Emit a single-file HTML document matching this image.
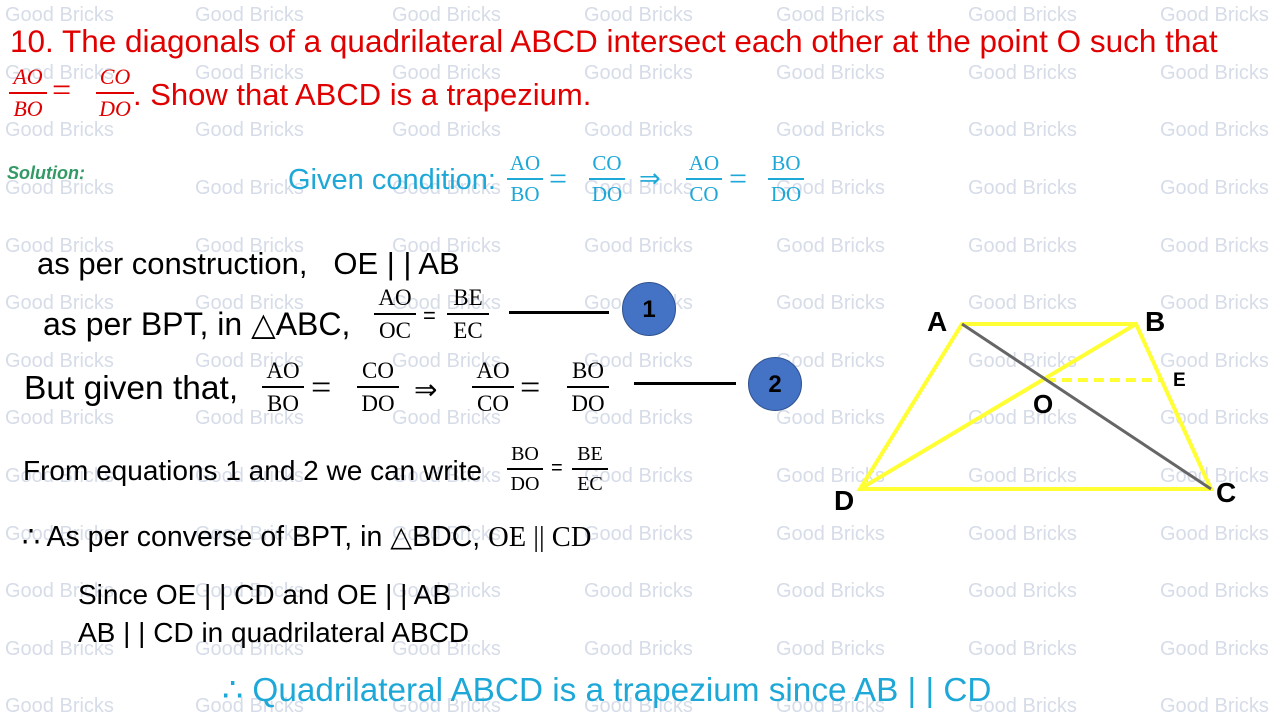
<!DOCTYPE html>
<html><head><meta charset="utf-8"><style>
body{margin:0;width:1280px;height:720px;position:relative;background:#fff;overflow:hidden;font-family:"Liberation Sans",sans-serif}
.w{position:absolute;color:#d6dce8;font-size:20px;white-space:nowrap}
.t{position:absolute;white-space:nowrap}
.f{position:absolute;font-family:"Liberation Serif",serif;text-align:center}
.f span{display:block;line-height:1}
.f i{display:block;border-top:2px solid currentColor;margin:4px 0}
.c{position:absolute;width:54px;height:54px;border-radius:50%;background:#4472c4;border:1.5px solid #2f528f;color:#000;font-weight:bold;font-size:24px;text-align:center;line-height:54px;box-sizing:border-box}
.h{position:absolute;height:2.5px;background:#000}
</style></head><body>
<div id="wm"></div>
<script>
var xs=[5,195,392,584,776,968,1160],ys=[4,62,119,177,235,292,350,407,465,523,580,638,695],h='';
ys.forEach(function(y){xs.forEach(function(x){h+='<div class="w" style="left:'+x+'px;top:'+y+'px">Good Bricks</div>'})});
document.getElementById('wm').innerHTML=h;
</script>
<div class="t" style="left:10px;top:23px;font-size:31.5px;color:#e00000">10. The diagonals of a quadrilateral ABCD intersect each other at the point O such that</div>
<div class="f" style="left:9px;top:66px;color:#e00000;font-size:22px;font-style:italic;width:38px"><span>AO</span><i></i><span>BO</span></div>
<div class="t" style="left:52px;top:72px;font-size:34px;color:#e00000;font-family:'Liberation Serif',serif">=</div>
<div class="f" style="left:96px;top:66px;color:#e00000;font-size:22px;font-style:italic;width:38px"><span>CO</span><i></i><span>DO</span></div>
<div class="t" style="left:133px;top:77px;font-size:31px;color:#e00000">. Show that ABCD is a trapezium.</div>
<div class="t" style="left:7px;top:163px;font-size:18px;color:#339966;font-weight:bold;font-style:italic">Solution:</div>
<div class="t" style="left:288px;top:164px;font-size:29px;color:#1ea8d8">Given condition:</div>
<div class="f" style="left:507px;top:153px;color:#1ea8d8;font-size:21px;width:36px"><span>AO</span><i></i><span>BO</span></div>
<div class="t" style="left:549px;top:160px;font-size:32px;color:#1ea8d8;font-family:'Liberation Serif',serif">=</div>
<div class="f" style="left:589px;top:153px;color:#1ea8d8;font-size:21px;width:36px"><span>CO</span><i></i><span>DO</span></div>
<div class="t" style="left:639px;top:163px;font-size:26px;color:#1ea8d8">⇒</div>
<div class="f" style="left:686px;top:153px;color:#1ea8d8;font-size:21px;width:36px"><span>AO</span><i></i><span>CO</span></div>
<div class="t" style="left:729px;top:160px;font-size:32px;color:#1ea8d8;font-family:'Liberation Serif',serif">=</div>
<div class="f" style="left:768px;top:153px;color:#1ea8d8;font-size:21px;width:36px"><span>BO</span><i></i><span>DO</span></div>
<div class="t" style="left:37px;top:246px;font-size:31px">as per construction,&nbsp;&nbsp; OE | | AB</div>
<div class="t" style="left:43px;top:305px;font-size:32px">as per BPT, in △ABC,</div>
<div class="f" style="left:374px;top:286px;font-size:23px;width:42px"><span>AO</span><i></i><span>OC</span></div>
<div class="t" style="left:423px;top:303px;font-size:22px">=</div>
<div class="f" style="left:447px;top:286px;font-size:23px;width:42px"><span>BE</span><i></i><span>EC</span></div>
<div class="h" style="left:509px;top:311px;width:100px"></div>
<div class="c" style="left:622px;top:282px">1</div>
<div class="t" style="left:24px;top:370px;font-size:33.5px">But given that,</div>
<div class="f" style="left:262px;top:359px;font-size:23px;width:42px"><span>AO</span><i></i><span>BO</span></div>
<div class="t" style="left:311px;top:366px;font-size:36px;font-family:'Liberation Serif',serif">=</div>
<div class="f" style="left:357px;top:359px;font-size:23px;width:42px"><span>CO</span><i></i><span>DO</span></div>
<div class="t" style="left:414px;top:373px;font-size:28px">⇒</div>
<div class="f" style="left:472px;top:359px;font-size:23px;width:42px"><span>AO</span><i></i><span>CO</span></div>
<div class="t" style="left:520px;top:366px;font-size:36px;font-family:'Liberation Serif',serif">=</div>
<div class="f" style="left:567px;top:359px;font-size:23px;width:42px"><span>BO</span><i></i><span>DO</span></div>
<div class="h" style="left:634px;top:382px;width:102px"></div>
<div class="c" style="left:748px;top:357px">2</div>
<div class="t" style="left:23px;top:455px;font-size:28px">From equations 1 and 2 we can write</div>
<div class="f" style="left:507px;top:444px;font-size:20px;width:36px"><span>BO</span><i></i><span>DO</span></div>
<div class="t" style="left:551px;top:457px;font-size:20px">=</div>
<div class="f" style="left:572px;top:444px;font-size:20px;width:36px"><span>BE</span><i></i><span>EC</span></div>
<div class="t" style="left:22px;top:520px;font-size:28.5px">∴ As per converse of BPT, in △BDC, <span style="font-family:'Liberation Serif',serif">OE || CD</span></div>
<div class="t" style="left:78px;top:579px;font-size:28px">Since OE | | CD and OE | | AB</div>
<div class="t" style="left:78px;top:617px;font-size:28px">AB | | CD in quadrilateral ABCD</div>
<div class="t" style="left:222px;top:670px;font-size:33.3px;color:#1ea8d8">∴ Quadrilateral ABCD is a trapezium since AB | | CD</div>
<svg style="position:absolute;left:0;top:0" width="1280" height="720">
<g stroke="#ffff33" stroke-width="4" fill="none">
<polygon points="962,324 1136,324 1211,489 860,489"/>
<line x1="1136" y1="324" x2="860" y2="489"/>
<line x1="1046" y1="380" x2="1163" y2="380" stroke-dasharray="10,6"/>
</g>
<line x1="962" y1="324" x2="1211" y2="489" stroke="#666" stroke-width="3"/>
<g font-family="Liberation Sans" font-weight="bold" fill="#000">
<text x="927" y="331" font-size="28">A</text>
<text x="1145" y="331" font-size="28">B</text>
<text x="1216" y="502" font-size="28">C</text>
<text x="834" y="510" font-size="28">D</text>
<text x="1033" y="413" font-size="26">O</text>
<text x="1173" y="386" font-size="19">E</text>
</g>
</svg>
</body></html>
